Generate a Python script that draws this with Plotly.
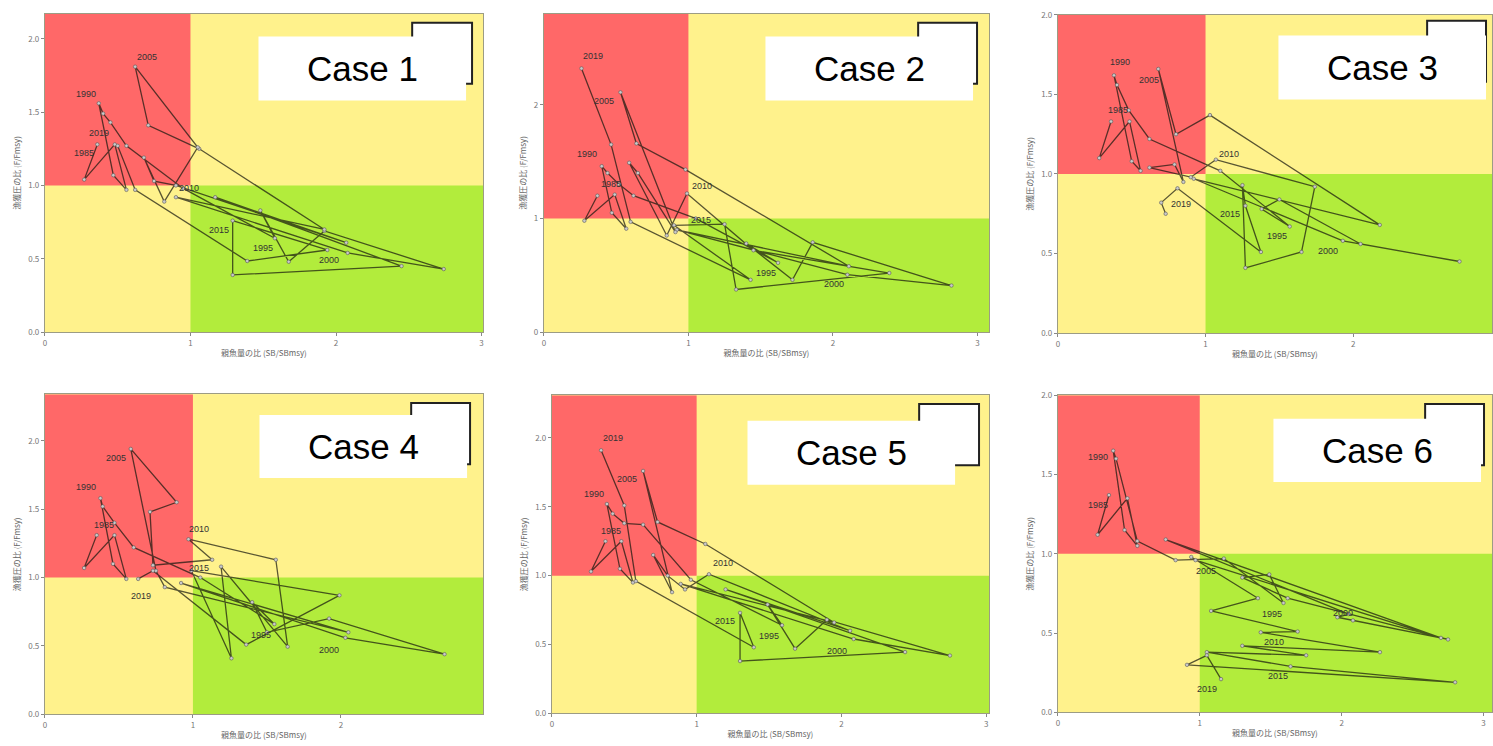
import plotly.graph_objects as go

W, H = 1493, 746

years = list(range(1985, 2020))
label_years = [1985, 1990, 1995, 2000, 2005, 2010, 2015, 2019]

# SB/SBmsy and F/Fmsy trajectories, one pair of lists per case (1985-2019)
sb_case1 = [0.36, 0.27, 0.48, 0.56, 0.47, 0.37, 0.40, 0.45, 0.56, 0.95,
            1.58, 1.48, 1.675, 1.92, 2.74, 2.08, 0.90, 1.92, 1.06, 0.71,
            0.62, 1.05, 0.82, 0.68, 0.75, 0.90, 2.07, 1.17, 2.45, 1.29,
            1.29, 1.94, 1.39, 0.62, 0.50]
f_case1 = [1.28, 1.04, 1.28, 0.97, 1.07, 1.56, 1.49, 1.43, 1.27, 0.98,
           0.64, 0.83, 0.48, 0.69, 0.43, 0.54, 0.92, 0.70, 1.25, 1.41,
           1.81, 1.26, 0.89, 1.19, 1.03, 1.00, 0.61, 0.92, 0.45, 0.39,
           0.76, 0.56, 0.485, 0.97, 1.27]

sb_case2 = [0.37, 0.28, 0.49, 0.57, 0.47, 0.40, 0.44, 0.52, 0.62, 1.05,
            1.62, 1.40, 1.72, 1.86, 2.82, 2.10, 0.92, 2.11, 0.98, 0.64,
            0.53, 0.91, 0.65, 0.59, 0.85, 0.99, 1.45, 2.39, 1.33, 1.25,
            0.90, 1.43, 0.60, 0.465, 0.26]
f_case2 = [1.20, 0.98, 1.21, 0.91, 1.05, 1.46, 1.40, 1.30, 1.20, 1.00,
           0.61, 0.78, 0.46, 0.79, 0.41, 0.505, 0.90, 0.58, 1.43, 1.66,
           2.11, 0.88, 1.40, 1.49, 0.85, 1.22, 0.72, 0.52, 0.375, 0.95,
           0.94, 0.46, 0.97, 1.65, 2.32]

sb_case3 = [0.36, 0.28, 0.485, 0.56, 0.50, 0.38, 0.40, 0.48, 0.62, 1.10,
            1.57, 1.38, 1.50, 2.05, 2.72, 1.93, 0.92, 2.18, 1.03, 0.80,
            0.68, 0.85, 0.79, 0.62, 0.90, 1.07, 1.74, 1.65, 1.27, 1.25,
            1.27, 1.375, 0.81, 0.70, 0.73]
f_case3 = [1.33, 1.10, 1.33, 1.02, 1.08, 1.62, 1.56, 1.40, 1.22, 1.02,
           0.67, 0.78, 0.84, 0.56, 0.45, 0.58, 0.97, 0.68, 1.37, 1.25,
           1.66, 0.95, 1.06, 1.04, 0.98, 1.09, 0.92, 0.51, 0.41, 0.93,
           0.80, 0.51, 0.91, 0.82, 0.75]

sb_case4 = [0.35, 0.265, 0.47, 0.55, 0.46, 0.375, 0.39, 0.47, 0.60, 1.05,
            1.55, 1.40, 1.50, 1.92, 2.70, 2.03, 0.92, 2.05, 0.81, 0.75,
            0.58, 0.89, 0.71, 0.73, 1.13, 0.97, 1.56, 1.64, 1.19, 1.26,
            0.99, 1.99, 1.36, 0.73, 0.63]
f_case4 = [1.31, 1.07, 1.31, 0.99, 1.10, 1.58, 1.52, 1.40, 1.22, 1.00,
           0.66, 0.82, 0.60, 0.70, 0.44, 0.56, 0.96, 0.60, 0.93, 1.05,
           1.94, 1.55, 1.48, 1.09, 1.13, 1.28, 1.13, 0.495, 1.08, 0.41,
           1.05, 0.87, 0.51, 1.05, 0.99]

sb_case5 = [0.37, 0.27, 0.48, 0.56, 0.47, 0.38, 0.42, 0.50, 0.63, 0.96,
            1.59, 1.49, 1.68, 1.90, 2.75, 2.085, 0.89, 1.95, 1.06, 0.73,
            0.63, 0.83, 0.70, 0.80, 0.92, 1.085, 2.06, 1.20, 2.44, 1.30,
            1.30, 1.395, 0.58, 0.50, 0.34]
f_case5 = [1.25, 1.03, 1.25, 0.95, 1.05, 1.52, 1.45, 1.38, 1.37, 0.97,
           0.64, 0.79, 0.47, 0.68, 0.42, 0.54, 0.94, 0.66, 1.23, 1.39,
           1.76, 0.88, 1.15, 1.00, 0.90, 1.01, 0.60, 0.90, 0.445, 0.38,
           0.73, 0.48, 0.96, 1.51, 1.91]

sb_case6 = [0.36, 0.28, 0.49, 0.56, 0.47, 0.39, 0.41, 0.56, 0.83, 1.17,
            1.59, 1.49, 1.30, 1.62, 2.75, 2.08, 1.97, 2.05, 0.76, 2.70,
            0.97, 0.94, 1.41, 1.08, 1.69, 1.43, 2.27, 1.30, 1.75, 1.05,
            1.64, 2.80, 0.91, 1.05, 1.15]
f_case6 = [1.37, 1.12, 1.35, 1.05, 1.15, 1.65, 1.60, 1.08, 0.96, 0.97,
           0.69, 0.87, 0.85, 0.72, 0.46, 0.58, 0.60, 0.62, 1.09, 0.47,
           0.96, 0.98, 0.72, 0.64, 0.51, 0.505, 0.38, 0.42, 0.36, 0.38,
           0.29, 0.19, 0.30, 0.36, 0.21]

case_titles = ["Case 1", "Case 2", "Case 3", "Case 4", "Case 5", "Case 6"]
x_ranges = [3.01, 3.08, 2.94, 2.96, 3.02, 3.06]
y_ranges = [2.17, 2.80, 2.00, 2.34, 2.31, 2.00]
y_ticks = [[0, 0.5, 1.0, 1.5, 2.0], [0, 1, 2], [0, 0.5, 1.0, 1.5, 2.0],
           [0, 0.5, 1.0, 1.5, 2.0], [0, 0.5, 1.0, 1.5, 2.0], [0, 0.5, 1.0, 1.5, 2.0]]
y_fmt = [".1f", "d", ".1f", ".1f", ".1f", ".1f"]
x_ticks = [[0, 1, 2, 3], [0, 1, 2, 3], [0, 1, 2], [0, 1, 2], [0, 1, 2, 3], [0, 1, 2, 3]]

series = [(sb_case1, f_case1), (sb_case2, f_case2), (sb_case3, f_case3),
          (sb_case4, f_case4), (sb_case5, f_case5), (sb_case6, f_case6)]

# pixel layout of each panel: (left, right, top, bottom)
panel_px = [(43, 482, 8, 331), (543, 989, 8, 331), (1058, 1493, 9, 332),
            (43, 482, 394, 719), (551, 989, 395, 718), (1058, 1493, 395, 717)]
# white title boxes and framed legend boxes (left, right, top, bottom)
title_px = [(257, 465, 31, 96), (765, 973, 31, 96), (1279, 1487, 30, 95),
            (258, 466, 415, 479), (747, 955, 421, 486), (1274, 1482, 419, 483)]
frame_px = [(411, 471, 17, 79), (918, 977, 17, 79), (1428, 1487, 15, 77),
            (410, 469, 403, 465), (919, 979, 404, 466), (1426, 1485, 404, 466)]

# year-label pixel offsets (dx, dy) relative to the labelled point
label_shift = [
    [(-13, -9), (-13, 9), (-12, -10), (-19, -7), (12, 10), (13, -3), (-14, -9), (-19, 13)],
    [(14, 12), (-15, 12), (-12, -10), (-13, -9), (-16, -9), (15, 7), (27, 5), (12, 12)],
    [(7, 11), (6, 13), (-13, -10), (-15, -10), (-9, -11), (13, 6), (-15, -8), (15, 10)],
    [(7, 10), (-14, 11), (-13, -11), (-16, -12), (-15, -9), (11, 10), (8, 3), (3, -17)],
    [(6, 10), (-13, 10), (-13, -11), (-17, -12), (-16, -8), (14, 11), (-15, -8), (12, 12)],
    [(-11, -10), (-15, -6), (-11, -11), (-10, 7), (11, -11), (13, -10), (-13, -10), (-14, -10)],
]

RED = "#FF6868"
YELLOW = "#FFF28C"
GREEN = "#B2EC3C"

def px_x(p):
    return p / W

def px_y(p):
    return 1 - p / H

fig = go.Figure()
shapes = []
annotations = []
layout = {}

for i in range(6):
    n = i + 1
    xa = "x" if n == 1 else f"x{n}"
    ya = "y" if n == 1 else f"y{n}"
    l, r, t, b = panel_px[i]
    sb, f = series[i]

    layout[f"xaxis{'' if n == 1 else n}"] = dict(
        domain=[px_x(l), px_x(r)], range=[0, x_ranges[i]], anchor=ya,
        tickvals=x_ticks[i], ticks="outside", ticklen=3, tickcolor="#888",
        tickfont=dict(size=8, color="#777"), showgrid=False, zeroline=False,
        showline=True, linecolor="#9c9c84", linewidth=1, mirror=True,
        title=dict(text="親魚量の比 (SB/SBmsy)", font=dict(size=8, color="#666"), standoff=3),
    )
    layout[f"yaxis{'' if n == 1 else n}"] = dict(
        domain=[px_y(b), px_y(t)], range=[0, y_ranges[i]], anchor=xa,
        tickvals=y_ticks[i], tickformat=y_fmt[i], ticks="outside", ticklen=3,
        tickcolor="#888", tickfont=dict(size=8, color="#777"), showgrid=False,
        zeroline=False, showline=True, linecolor="#9c9c84", linewidth=1, mirror=True,
        title=dict(text="漁獲圧の比 (F/Fmsy)", font=dict(size=8, color="#666"), standoff=6),
    )

    # Kobe zones: yellow background, red overfished/overfishing, green healthy
    shapes.append(dict(type="rect", xref=xa, yref=ya, x0=0, x1=x_ranges[i], y0=0,
                       y1=y_ranges[i], fillcolor=YELLOW, line=dict(width=0), layer="below"))
    shapes.append(dict(type="rect", xref=xa, yref=ya, x0=0, x1=1, y0=1,
                       y1=y_ranges[i], fillcolor=RED, line=dict(width=0), layer="below"))
    shapes.append(dict(type="rect", xref=xa, yref=ya, x0=1, x1=x_ranges[i], y0=0,
                       y1=1, fillcolor=GREEN, line=dict(width=0), layer="below"))

    fig.add_trace(go.Scatter(
        x=sb, y=f, mode="lines+markers", xaxis=xa, yaxis=ya,
        line=dict(color="rgba(25,25,15,0.72)", width=1.3),
        marker=dict(size=3.5, color="#c9c9c9", line=dict(color="#5a5a5a", width=0.6)),
        text=[str(yv) for yv in years], hoverinfo="text+x+y", showlegend=False,
    ))

    for k, yr in enumerate(label_years):
        j = years.index(yr)
        dx, dy = label_shift[i][k]
        annotations.append(dict(
            x=sb[j], y=f[j], xref=xa, yref=ya, text=str(yr), showarrow=False,
            xshift=dx, yshift=dy, font=dict(size=9, color="#333", family="Liberation Sans"),
        ))

    # framed legend box and the white case-title box over it
    fl, fr, ft, fb = frame_px[i]
    shapes.append(dict(type="rect", xref="paper", yref="paper",
                       x0=px_x(fl), x1=px_x(fr), y0=px_y(fb), y1=px_y(ft),
                       fillcolor="white", line=dict(color="#222", width=2)))
    tl, tr, tt, tb = title_px[i]
    shapes.append(dict(type="rect", xref="paper", yref="paper",
                       x0=px_x(tl), x1=px_x(tr), y0=px_y(tb), y1=px_y(tt),
                       fillcolor="white", line=dict(width=0)))
    annotations.append(dict(
        x=px_x((tl + tr) / 2), y=px_y((tt + tb) / 2), xref="paper", yref="paper",
        text=case_titles[i], showarrow=False, xanchor="center", yanchor="middle",
        font=dict(size=35, color="black", family="Liberation Sans"),
    ))

fig.update_layout(
    width=W, height=H, margin=dict(l=0, r=0, t=0, b=0),
    paper_bgcolor="white", plot_bgcolor=YELLOW,
    font=dict(family="Noto Sans CJK JP"),
    shapes=shapes, annotations=annotations, **layout,
)

fig.write_html("out.html")
